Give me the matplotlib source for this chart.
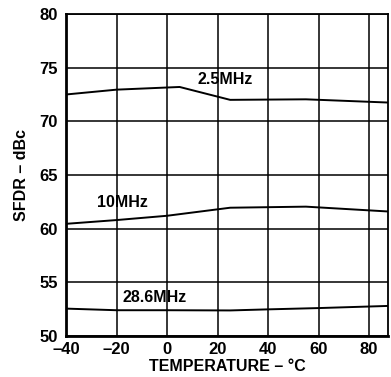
import numpy as np
import matplotlib.pyplot as plt

plt.rcParams['font.family'] = ['Liberation Sans', 'DejaVu Sans']
plt.rcParams['font.weight'] = 'bold'

# данные
temp = [-40, -20, 5, 25, 55, 87.5]
sfdr_2_5 = [72.5, 72.95, 73.2, 72.0, 72.05, 71.75]

temp_10 = [-40, -20, 0, 25, 55, 87.5]
sfdr_10 = [60.45, 60.8, 61.2, 61.95, 62.05, 61.6]

temp_28 = [-40, -20, 0, 25, 40, 60, 87.5]
sfdr_28 = [52.55, 52.4, 52.4, 52.38, 52.48, 52.6, 52.8]

x_ticks = [-40, -20, 0, 20, 40, 60, 80]
y_ticks = [50, 55, 60, 65, 70, 75, 80]

fig = plt.figure(figsize=(3.91, 3.77), dpi=100)
ax = fig.add_axes([0.1688, 0.1088, 0.8235, 0.8541])

ax.plot(temp, sfdr_2_5, 'k-', lw=1.4)
ax.plot(temp_10, sfdr_10, 'k-', lw=1.4)
ax.plot(temp_28, sfdr_28, 'k-', lw=1.4)

ax.text(23, 73.85, '2.5MHz', fontsize=11.5, fontweight='bold', ha='center', va='center')
ax.text(-17.5, 62.4, '10MHz', fontsize=11.5, fontweight='bold', ha='center', va='center')
ax.text(-5, 53.6, '28.6MHz', fontsize=11.5, fontweight='bold', ha='center', va='center')

ax.set_xlim(-40, 87.5)
ax.set_ylim(50, 80)
ax.set_xticks(x_ticks)
ax.set_yticks(y_ticks)
ax.set_xticklabels(['\u201340', '\u201320', '0', '20', '40', '60', '80'])
ax.tick_params(axis='y', labelsize=12, length=0, pad=6)
ax.tick_params(axis='x', labelsize=12, length=0, pad=4)
ax.grid(True, color='black', lw=1.1)
for s in ax.spines.values():
    s.set_linewidth(1.3)
ax.spines['left'].set_linewidth(2)
ax.spines['bottom'].set_linewidth(2)

ax.set_xlabel('TEMPERATURE \u2013 \u00b0C', fontsize=11.5, fontweight='bold', labelpad=2)
ax.set_ylabel('SFDR \u2013 dBc', fontsize=11.5, fontweight='bold', labelpad=7)

plt.savefig('out.png', dpi=100)
